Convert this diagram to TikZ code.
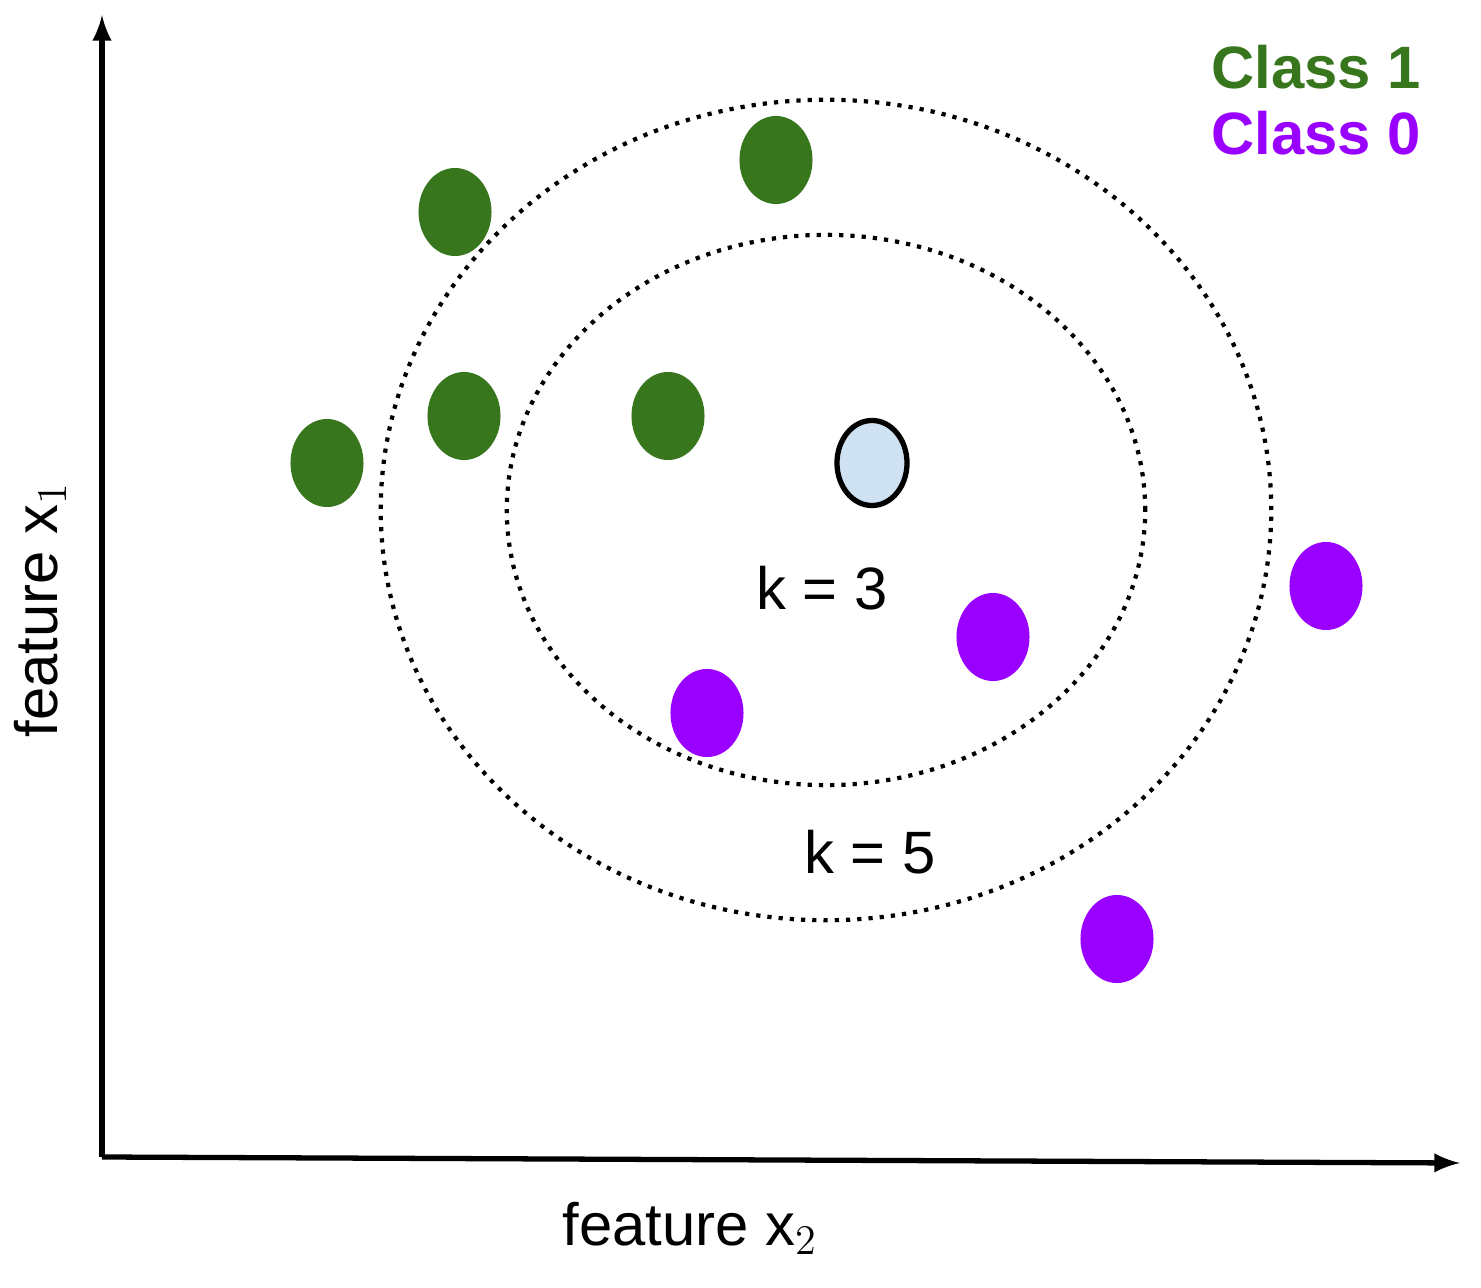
\documentclass[tikz,border=0pt]{standalone}
\usepackage{fontspec}
\setmainfont{Liberation Sans}
\usetikzlibrary{shapes.geometric}

\tikzset{
  pt/.style={ellipse, minimum width=0.73cm, minimum height=0.88cm, inner sep=0pt},
  green pt/.style={pt, fill=pgreen},
  purple pt/.style={pt, fill=ppurple},
  lbl/.style={font=\fontsize{17}{20}\selectfont}
}
\definecolor{pgreen}{HTML}{38761D}
\definecolor{ppurple}{HTML}{9900FF}
\definecolor{pquery}{HTML}{CFE2F3}

\begin{document}
\begin{tikzpicture}[x=0.01cm, y=-0.01cm]
\useasboundingbox (0,0) rectangle (1481,1288);

% axes
\coordinate (origin) at (102,1157);
\coordinate (xend) at (1460,1163);
\coordinate (yend) at (102,15);
\draw[line width=1.5pt, -latex] (origin) -- (xend);
\draw[line width=1.5pt, -latex] (origin) -- (yend);
\node[lbl] (xlabel) at (690,1228) {feature x$_2$};
\node[lbl, rotate=90] (ylabel) at (40,610) {feature x$_1$};

% neighbourhoods
\draw[line width=1.2pt, dotted] (826,510) ellipse [x radius=3.19cm, y radius=2.75cm];
\draw[line width=1.2pt, dotted] (826,510) ellipse [x radius=4.45cm, y radius=4.10cm];
\node[lbl] (k3) at (822,588) {k = 3};
\node[lbl] (k5) at (870,852) {k = 5};

% class 1
\node[green pt] (g1) at (455,212) {};
\node[green pt] (g2) at (776,160) {};
\node[green pt] (g3) at (464,416) {};
\node[green pt] (g4) at (668,416) {};
\node[green pt] (g5) at (327,463) {};

% class 0
\node[purple pt] (p1) at (1326,586) {};
\node[purple pt] (p2) at (993,637) {};
\node[purple pt] (p3) at (707,713) {};
\node[purple pt] (p4) at (1117,939) {};

% query point
\node[pt, fill=pquery, draw=black, line width=1.5pt, minimum width=0.70cm, minimum height=0.85cm] (q) at (872,463) {};

% legend
\node[lbl, font=\fontsize{17}{20}\selectfont\bfseries, text=pgreen] (c1) at (1316,67) {Class 1};
\node[lbl, font=\fontsize{17}{20}\selectfont\bfseries, text=ppurple] (c0) at (1316,133) {Class 0};

\end{tikzpicture}
\end{document}
